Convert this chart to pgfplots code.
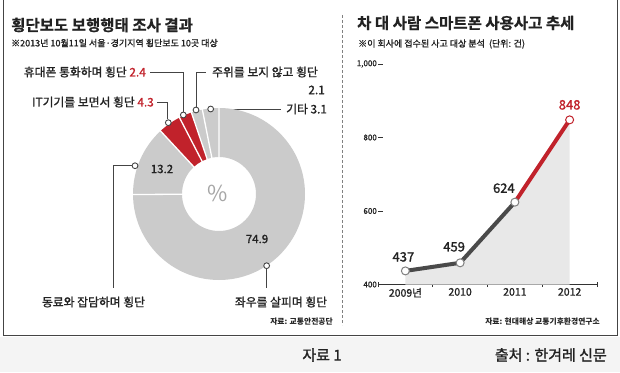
\documentclass[border=0pt]{standalone}
\usepackage{pgfplots}
\pgfplotsset{compat=1.18}
\usepackage{fontspec}
\setmainfont{Noto Sans CJK KR}
\newfontfamily\mfont{Noto Sans CJK KR}[FakeBold=1.3]
\newfontfamily\hfont{Noto Sans CJK KR Bold}[FakeBold=0.8]
\definecolor{dgray}{HTML}{4A4A4A}
\definecolor{donutgray}{HTML}{CBCBCB}
\definecolor{kred}{HTML}{C1222B}
\definecolor{linegray}{HTML}{444444}
\definecolor{areagray}{HTML}{E8E8E8}
\definecolor{stripgray}{HTML}{F4F4F4}
\definecolor{txt}{HTML}{222222}
\begin{document}
\begin{tikzpicture}
\path[use as bounding box] (0,0) rectangle (620pt,372pt);
% angles from the donut data (percent, clockwise from 12 o'clock)
\pgfmathsetmacro\aA{90}
\pgfmathsetmacro\aB{\aA-3.6*74.9}
\pgfmathsetmacro\aC{\aB-3.6*13.2}
\pgfmathsetmacro\aD{\aC-3.6*4.3}
\pgfmathsetmacro\aE{\aD-3.6*2.4}
\pgfmathsetmacro\aF{\aE-3.6*2.1}
\pgfmathsetmacro\aG{\aF-3.6*3.1}
\begin{scope}[x=1pt,y=-1pt,shift={(0pt,372pt)}]
  \fill[stripgray] (0,337) rectangle (620,372);
  \draw[linegray, line width=1pt] (3,-2) -- (3,335) -- (617,335) -- (617,-2);
  \draw[gray, densely dashed, line width=0.8pt] (342,15) -- (342,325);
  % titles
  \node[anchor=west, inner sep=0, text=txt, font=\hfont\fontsize{15.5}{16}\selectfont] at (11,25) {횡단보도 보행행태 조사 결과};
  \node[anchor=west, inner sep=0, text=txt, font=\mfont\fontsize{9}{9}\selectfont] at (11,43) {※2013년 10월11일 서울·경기지역 횡단보도 10곳 대상};
  \node[anchor=west, inner sep=0, text=txt, font=\hfont\fontsize{15.5}{16}\selectfont] at (357,23) {차 대 사람 스마트폰 사용사고 추세};
  \node[anchor=west, inner sep=0, text=txt, font=\mfont\fontsize{9}{9}\selectfont] at (358,44) {※이 회사에 접수된 사고 대상 분석 \ (단위: 건)};
  % callout lines
  \begin{scope}[linegray, line width=0.8pt]
    \draw (183.3,112) -- (183.3,72) -- (150,72);
    \draw (167.5,119.5) -- (167.5,102) -- (157,102);
    \draw (196,107) -- (196,72) -- (206,72);
    \draw (213,109) -- (281,109);
    \draw (132,165.7) -- (113,165.7) -- (113,288);
    \draw (266.7,269) -- (266.7,288);
  \end{scope}
  \begin{scope}[every node/.style={inner sep=0, text=txt, font=\mfont\fontsize{11.8}{12}\selectfont}]
    \node[anchor=east] at (146,72) {휴대폰 통화하며 횡단 \textcolor{kred}{2.4}};
    \node[anchor=east] at (154,102) {IT기기를 보면서 횡단 \textcolor{kred}{4.3}};
    \node[anchor=west] at (212,72) {주위를 보지 않고 횡단};
    \node[anchor=east] at (325,90) {2.1};
    \node[anchor=west] at (286,109) {기타 3.1};
    \node at (93.5,302) {동료와 잡담하며 횡단};
    \node at (281,302) {좌우를 살피며 횡단};
  \end{scope}
  \node[anchor=east, inner sep=0, text=txt, font=\bfseries\fontsize{7.8}{8}\selectfont] at (333,322) {자료: 교통안전공단};
  \node[anchor=east, inner sep=0, text=txt, font=\bfseries\fontsize{7.8}{8}\selectfont] at (600,322) {자료: 현대해상 교통기후환경연구소};
  \node[inner sep=0, text=txt, font=\mfont\fontsize{15}{15}\selectfont] at (322,355) {자료 1};
  \node[anchor=east, inner sep=0, text=txt, font=\mfont\fontsize{15}{15}\selectfont] at (607,355) {출처 : 한겨레 신문};
\end{scope}
% ---------------- donut ----------------
\begin{axis}[at={(219pt,178pt)}, anchor=center, x=1pt, y=1pt,
  xmin=-100, xmax=100, ymin=-100, ymax=100, hide axis, clip=false]
  \fill[donutgray, shift={(axis cs:0,0)}] (\aA:86pt) arc[start angle=\aA, end angle=\aB, radius=86pt] -- (\aB:37pt) arc[start angle=\aB, end angle=\aA, radius=37pt] -- cycle;
  \fill[donutgray, shift={(axis cs:0,0)}] (\aB:86pt) arc[start angle=\aB, end angle=\aC, radius=86pt] -- (\aC:37pt) arc[start angle=\aC, end angle=\aB, radius=37pt] -- cycle;
  \fill[kred, shift={(axis cs:0,0)}] (\aC:86pt) arc[start angle=\aC, end angle=\aD, radius=86pt] -- (\aD:37pt) arc[start angle=\aD, end angle=\aC, radius=37pt] -- cycle;
  \fill[kred, shift={(axis cs:0,0)}] (\aD:86pt) arc[start angle=\aD, end angle=\aE, radius=86pt] -- (\aE:37pt) arc[start angle=\aE, end angle=\aD, radius=37pt] -- cycle;
  \fill[donutgray, shift={(axis cs:0,0)}] (\aE:86pt) arc[start angle=\aE, end angle=\aF, radius=86pt] -- (\aF:37pt) arc[start angle=\aF, end angle=\aE, radius=37pt] -- cycle;
  \fill[donutgray, shift={(axis cs:0,0)}] (\aF:86pt) arc[start angle=\aF, end angle=\aG, radius=86pt] -- (\aG:37pt) arc[start angle=\aG, end angle=\aF, radius=37pt] -- cycle;
  \draw[white, line width=1.3pt, shift={(axis cs:0,0)}] (\aA:36pt) -- (\aA:87pt) (\aB:36pt) -- (\aB:87pt) (\aC:36pt) -- (\aC:87pt) (\aD:36pt) -- (\aD:87pt) (\aE:36pt) -- (\aE:87pt) (\aF:36pt) -- (\aF:87pt);
  \addplot[only marks, data cs=polar, mark=*, mark size=2.9pt, mark options={fill=white, draw=linegray, line width=0.9pt}]
    coordinates {(-56.4,86.1) (161.4,88.6) (125.4,87.5) (114.3,86.7) (105.3,87.1) (95.6,85.4)};
  \node[font=\mfont\fontsize{11.5}{12}\selectfont, text=txt] at (axis cs:-57,25) {13.2};
  \node[font=\mfont\fontsize{11.5}{12}\selectfont, text=txt] at (axis cs:38,-45) {74.9};
  \node[font=\fontsize{22}{22}\selectfont, text=black!35] at (axis cs:-1,1) {\%};
\end{axis}
% ---------------- line chart ----------------
\begin{axis}[at={(378pt,87.5pt)}, anchor=south west, scale only axis,
  width=219pt, height=220.5pt, xmin=0, xmax=4, ymin=400, ymax=1000, clip=false,
  axis x line*=bottom, axis y line*=left,
  y axis line style={draw=none},
  x axis line style={draw=black!80, line width=1pt, -},
  /pgf/number format/assume math mode=true,
  ytick={400,600,800,1000},
  yticklabel style={font=\mfont\fontsize{8}{8}\selectfont, text=txt, inner sep=1pt},
  ytick style={draw=black!80, line width=0.6pt},
  tick align=inside, major tick length=5pt,
  xtick={0.5,1.5,2.5,3.5}, xticklabels={2009년,2010,2011,2012},
  xticklabel style={font=\mfont\fontsize{10.5}{11}\selectfont, text=txt},
  xtick style={draw=none},
  minor xtick={0,1,2,3,4}, minor tick length=5pt,
  minor x tick style={draw=black!80, line width=0.8pt, yshift=-2.5pt},
]
  \addplot[fill=areagray, draw=none] coordinates {(0.5,400) (0.5,437) (1.5,459) (2.5,624) (3.5,848) (3.5,400)} -- cycle;
  \addplot[dgray, line width=4pt] coordinates {(0.5,437) (1.5,459) (2.5,624)};
  \addplot[kred, line width=4pt] coordinates {(2.5,624) (3.5,848)};
  \addplot[only marks, mark=*, mark size=4pt, mark options={fill=white, draw=gray, line width=1pt}] coordinates {(0.5,437) (1.5,459) (2.5,624)};
  \addplot[only marks, mark=*, mark size=4pt, mark options={fill=white, draw=kred, line width=1pt}] coordinates {(3.5,848)};
  \node[font=\mfont\fontsize{13}{13}\selectfont, text=txt] at (axis cs:0.5,437) [xshift=-2pt, yshift=14pt] {437};
  \node[font=\mfont\fontsize{13}{13}\selectfont, text=txt] at (axis cs:1.5,459) [xshift=-6pt, yshift=16pt] {459};
  \node[font=\mfont\fontsize{13}{13}\selectfont, text=txt] at (axis cs:2.5,624) [xshift=-11pt, yshift=14pt] {624};
  \node[font=\mfont\fontsize{13}{13}\selectfont, text=kred] at (axis cs:3.5,848) [yshift=15pt] {848};
\end{axis}
\end{tikzpicture}
\end{document}
